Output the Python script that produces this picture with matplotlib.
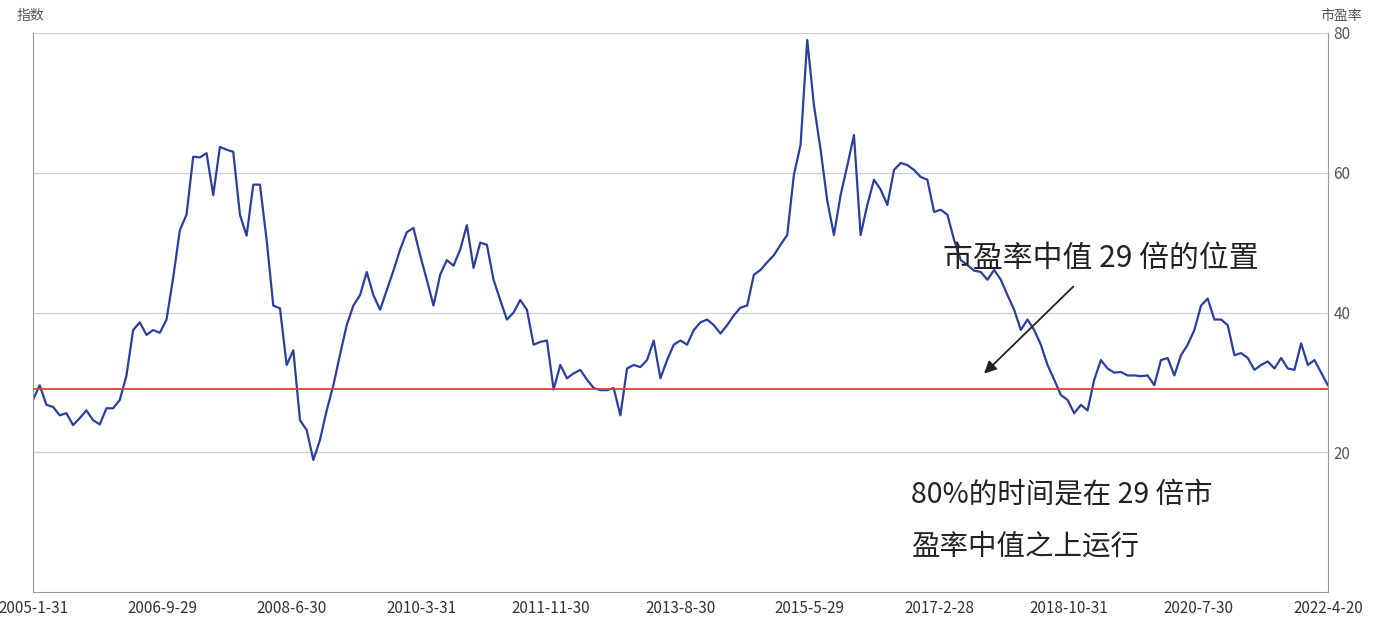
import matplotlib
matplotlib.use("Agg")
import matplotlib.pyplot as plt
import numpy as np

plt.rcParams['font.family'] = ['Noto Sans CJK SC', 'DejaVu Sans']

pe = [27.5,29.6,26.8,26.5,25.3,25.6,23.9,24.9,26,24.6,24,26.3,26.3,27.5,31,37.5,38.6,36.8,37.5,37.1,39,45,51.8,54,62.3,62.2,62.8,56.8,63.7,63.3,63,54,51,58.3,58.3,50.4,41,40.6,32.5,34.6,24.6,23.2,18.9,21.8,26,29.6,34,38.2,41,42.5,45.8,42.5,40.4,43.2,46,49,51.5,52.1,48.2,44.7,41,45.4,47.5,46.7,49,52.5,46.4,50,49.7,44.7,41.8,39,40,41.8,40.4,35.4,35.8,36,29,32.5,30.6,31.3,31.8,30.4,29.2,28.9,28.9,29.2,25.3,32,32.5,32.2,33.2,36,30.6,33.2,35.4,36,35.4,37.5,38.6,39,38.2,37,38.2,39.6,40.7,41,45.4,46.1,47.2,48.2,49.7,51.1,59.7,64,79,69.7,63.3,56,51.1,56.8,61,65.4,51.1,55.4,59,57.6,55.4,60.4,61.4,61.1,60.4,59.4,59,54.4,54.7,54,50.4,47.5,46.8,46,45.8,44.7,46.1,44.7,42.5,40.4,37.5,39,37.5,35.4,32.5,30.4,28.2,27.5,25.6,26.8,26,30.4,33.2,32,31.4,31.5,31,31,30.9,31,29.6,33.2,33.5,31,33.9,35.4,37.5,41,42,39,39,38.2,33.9,34.2,33.5,31.8,32.5,33,32,33.5,32,31.8,35.6,32.5,33.2,31.4,29.6]
tick_labels = ['2005-1-31','2006-9-29','2008-6-30','2010-3-31','2011-11-30','2013-8-30','2015-5-29','2017-2-28','2018-10-31','2020-7-30','2022-4-20']
median_pe = 29

fig = plt.figure(figsize=(13.76, 6.22), dpi=100)
ax = fig.add_axes([0.024, 0.048, 0.941, 0.899])
x = np.linspace(0, 1, len(pe))
ax.plot(x, pe, color='#2b3f9e', lw=1.6)
ax.axhline(median_pe, color='#e0403a', lw=1.3)
ax.set_xlim(0, 1)
ax.set_ylim(0, 80)
ax.set_xticks(np.linspace(0, 1, len(tick_labels)))
ax.set_xticklabels(tick_labels, fontsize=11, color='#333333')
ax.yaxis.tick_right()
ax.set_yticks([20, 40, 60, 80])
ax.tick_params(axis='y', labelsize=11, colors='#555555', length=0, pad=4)
ax.tick_params(axis='x', length=0, pad=6)
for v in [20, 40, 60, 80]:
    ax.axhline(v, color='#c8d0dc', lw=0.9, zorder=0)
ax.spines['top'].set_visible(False)
for s in ['left', 'right', 'bottom']:
    ax.spines[s].set_color('#999999')
fig.text(0.012, 0.985, '指数', fontsize=10, color='#555555', va='top')
fig.text(0.99, 0.985, '市盈率', fontsize=10, color='#555555', va='top', ha='right')
ax.text(0.703, 46.5, '市盈率中值 29 倍的位置', fontsize=21.5, color='#222222', transform=ax.get_yaxis_transform())
ax.annotate('', xy=(0.733, 31), xytext=(0.805, 44),
            xycoords=ax.get_yaxis_transform(), textcoords=ax.get_yaxis_transform(),
            arrowprops=dict(arrowstyle='-|>', color='#222222', lw=1.3, mutation_scale=18))
ax.text(0.678, 13.8, '80%的时间是在 29 倍市', fontsize=20.5, color='#222222', transform=ax.get_yaxis_transform(), va='center')
ax.text(0.678, 6.5, '盈率中值之上运行', fontsize=20.5, color='#222222', transform=ax.get_yaxis_transform(), va='center')
fig.savefig('out.png')
